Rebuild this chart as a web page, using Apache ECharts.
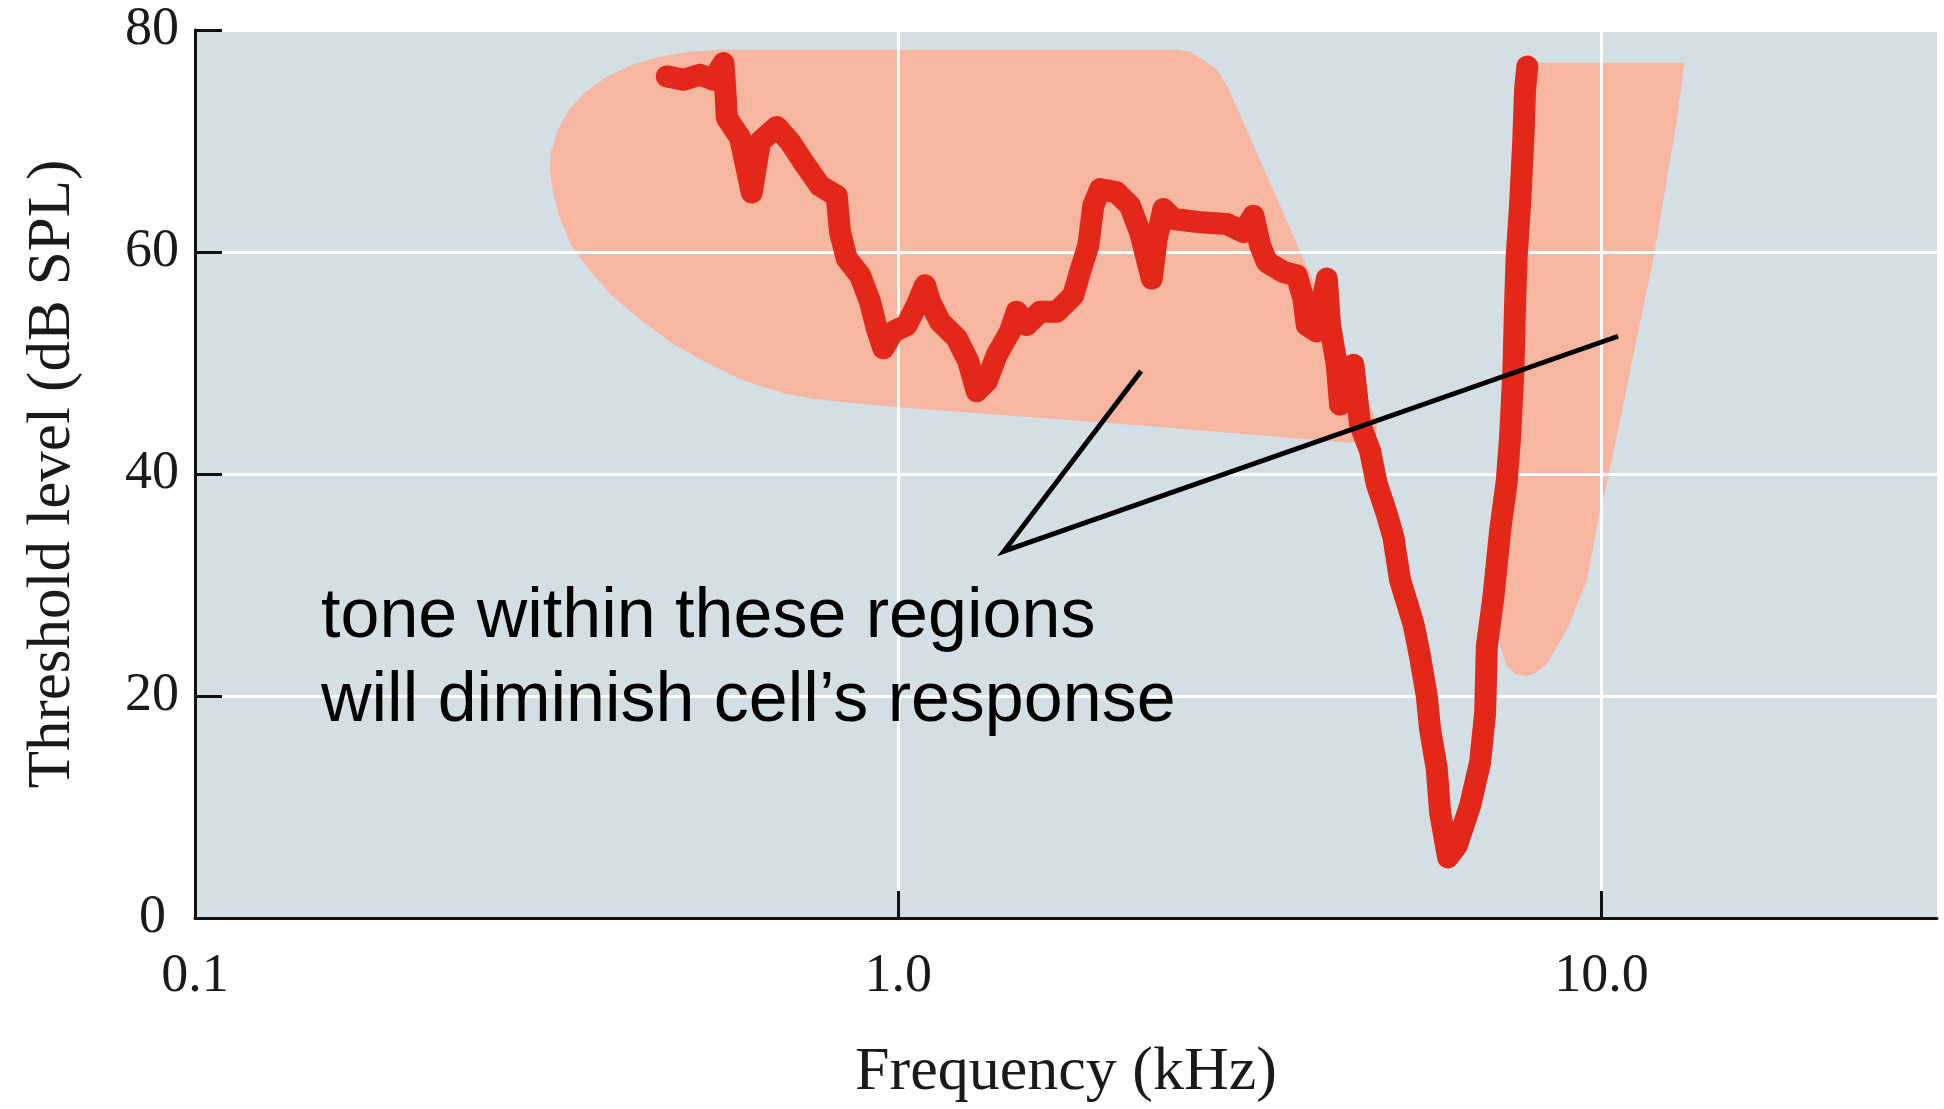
<!DOCTYPE html>
<html><head><meta charset="utf-8">
<script src="https://cdn.jsdelivr.net/npm/echarts@6/dist/echarts.min.js"></script>
<style>html,body{margin:0;padding:0;background:#fff}#c{width:1944px;height:1109px}</style>
</head><body><div id="c"></div>
<script>
// ---- axis ticks / labels ----
const xTickValues = [1, 10];
const xLabelValues = [0.1, 1, 10];
const yTickValues = [20, 40, 60, 80];
const yLabelValues = [0, 20, 40, 60, 80];

// ---- excitatory threshold tuning curve (kHz, dB SPL) ----
const curveFreq = [0.4687, 0.4950, 0.5227, 0.5460, 0.5642, 0.5673, 0.5705, 0.5957, 0.6190, 0.6360, 0.6717, 0.7016, 0.7328, 0.7740, 0.8175, 0.8264, 0.8450, 0.8825, 0.9118, 0.9320, 0.9524, 0.9840, 1.0283, 1.0624, 1.0917, 1.1098, 1.1467, 1.2113, 1.2580, 1.2929, 1.3362, 1.3806, 1.4421, 1.4740, 1.5230, 1.5908, 1.6803, 1.7742, 1.8134, 1.8634, 1.8941, 1.9364, 2.0449, 2.1358, 2.2073, 2.2934, 2.3313, 2.3823, 2.4615, 2.6867, 2.9315, 3.0961, 3.1989, 3.2697, 3.3420, 3.5285, 3.6872, 3.7678, 3.8097, 3.9363, 4.0683, 4.1115, 4.2034, 4.2491, 4.4383, 4.5365, 4.6873, 4.7920, 4.9513, 5.0596, 5.1715, 5.4015, 5.5208, 5.6443, 5.7057, 5.8319, 5.8953, 6.0509, 6.2262, 6.5035, 6.7198, 6.8323, 6.8701, 7.0206, 7.1758, 7.3345, 7.4131, 7.4938, 7.5350, 7.5768, 7.6591, 7.7424, 7.7866, 7.8443];
const curveDb = [75.82, 75.52, 75.97, 75.52, 77.02, 74.89, 72.09, 70.30, 65.37, 69.93, 71.27, 69.93, 68.11, 65.96, 65.07, 61.79, 59.40, 57.90, 55.52, 53.12, 51.33, 52.83, 53.42, 55.21, 57.00, 55.52, 53.72, 52.23, 50.14, 47.45, 48.35, 50.73, 52.83, 54.62, 53.42, 54.62, 54.62, 56.11, 58.20, 60.59, 64.17, 65.67, 65.37, 64.17, 61.79, 57.61, 61.19, 63.87, 62.97, 62.68, 62.53, 61.79, 63.27, 60.59, 59.10, 58.20, 57.90, 55.81, 53.42, 52.83, 57.61, 53.42, 49.84, 46.25, 49.84, 44.46, 42.08, 39.09, 36.40, 34.31, 30.43, 26.54, 23.56, 19.98, 16.99, 13.41, 9.52, 5.46, 6.54, 10.12, 14.00, 18.48, 24.46, 28.94, 34.91, 39.39, 43.27, 49.25, 55.21, 59.69, 64.17, 70.15, 74.62, 76.71];

// ---- inhibitory regions (outline vertices) ----
const leftFreq = [0.5579, 0.5057, 0.4584, 0.4181, 0.3853, 0.3597, 0.3404, 0.3283, 0.3209, 0.3198, 0.3230, 0.3305, 0.3437, 0.3645, 0.3917, 0.4293, 0.4769, 0.5313, 0.5957, 0.6360, 0.6948, 0.7614, 0.8541, 1.0226, 2.1432, 4.3845, 4.6262, 4.7809, 4.7964, 3.7479, 2.9538, 2.8399, 2.7398, 2.6002, 2.4918];
const leftDb = [78.21, 78.03, 77.58, 76.86, 75.79, 74.45, 72.83, 71.04, 69.07, 67.46, 65.22, 62.98, 60.47, 58.32, 56.08, 53.93, 51.78, 50.08, 48.56, 47.93, 47.20, 46.76, 46.41, 45.96, 44.43, 42.82, 42.91, 43.45, 44.61, 59.75, 74.62, 76.42, 77.13, 78.03, 78.21];
const rightFreq = [7.9921, 13.108, 12.843, 11.880, 10.219, 9.954, 9.539, 8.934, 8.368, 8.097, 7.837, 7.560, 7.343, 7.176, 7.176, 7.366, 7.511, 7.610, 7.760];
const rightDb = [77.04, 77.04, 72.43, 59.75, 39.60, 36.73, 30.46, 25.98, 22.93, 22.13, 21.77, 21.95, 22.67, 24.46, 28.94, 39.69, 51.33, 64.77, 73.73];

// ---- annotation pointer (kHz, dB) and text ----
const pointerFreq = [2.2145, 1.4143, 10.559];
const pointerDb = [49.27, 33.06, 52.41];
const noteLines = ['tone within these regions', 'will diminish cell\u2019s response'];

const zip = (a, b) => a.map((v, i) => [v, b[i]]);
const SERIF = '"Liberation Serif", "Times New Roman", serif';
const TXT = '#1a1a1a';

function regionSeries(fs, ds) {
  return {
    type: 'custom', z: 1, silent: true, data: zip(fs, ds), encode: { x: 0, y: 1 },
    renderItem(params, api) {
      if (params.dataIndex !== 0) return;
      const pts = fs.map((f, i) => api.coord([f, ds[i]]));
      return { type: 'polygon', shape: { points: pts }, style: { fill: '#f6b6a0' } };
    }
  };
}

const chart = echarts.init(document.getElementById('c'));
chart.setOption({
  animation: false,
  backgroundColor: '#ffffff',
  grid: { left: 195, top: 30, right: 7, bottom: 186, show: true, backgroundColor: '#d3dfe4', borderWidth: 0 },
  xAxis: {
    type: 'log', logBase: 10, min: 0.1, max: 30, z: 2,
    axisLine: { show: true, onZero: false, lineStyle: { color: '#111', width: 3 } },
    axisTick: { show: true, inside: true, length: 27, lineStyle: { color: '#111', width: 3 }, customValues: xTickValues },
    minorTick: { show: false },
    axisLabel: { customValues: xLabelValues, formatter: v => Number(v).toFixed(1), margin: 32, fontFamily: SERIF, fontSize: 54, color: TXT },
    splitLine: { show: true, lineStyle: { color: '#ffffff', width: 3 } },
    name: 'Frequency (kHz)', nameLocation: 'middle', nameGap: 124,
    nameTextStyle: { fontFamily: SERIF, fontSize: 62, color: TXT }
  },
  yAxis: {
    type: 'value', min: 0, max: 80, interval: 20, z: 2,
    axisLine: { show: true, lineStyle: { color: '#111', width: 3 } },
    axisTick: { show: true, inside: true, length: 27, lineStyle: { color: '#111', width: 3 }, customValues: yTickValues },
    axisLabel: {
      customValues: yLabelValues, margin: 16, fontFamily: SERIF, fontSize: 54, color: TXT,
      formatter: v => (Number(v) === 0 ? '{z|0}' : String(v)),
      rich: { z: { fontFamily: SERIF, fontSize: 54, color: TXT, padding: [0, 13, 0, 0] } }
    },
    splitLine: { show: true, lineStyle: { color: '#ffffff', width: 3 } },
    name: 'Threshold level (dB SPL)', nameLocation: 'middle', nameGap: 112, nameRotate: 90,
    nameTextStyle: { fontFamily: SERIF, fontSize: 61, color: TXT }
  },
  series: [
    regionSeries(leftFreq, leftDb),
    regionSeries(rightFreq, rightDb),
    {
      type: 'line', z: 3, data: zip(curveFreq, curveDb), symbol: 'none', silent: true,
      lineStyle: { color: '#e3281a', width: 22, cap: 'round', join: 'round' }
    },
    {
      type: 'line', z: 4, data: zip(pointerFreq, pointerDb), symbol: 'none', silent: true,
      lineStyle: { color: '#000', width: 5, cap: 'butt', join: 'miter' }
    }
  ],
  graphic: [{
    type: 'text', x: 321, y: 576, z: 10, silent: true,
    style: { text: noteLines.join('\n'), font: '70px "Liberation Sans", Arial, sans-serif', fill: '#000', lineHeight: 84 }
  }]
});
</script></body></html>
